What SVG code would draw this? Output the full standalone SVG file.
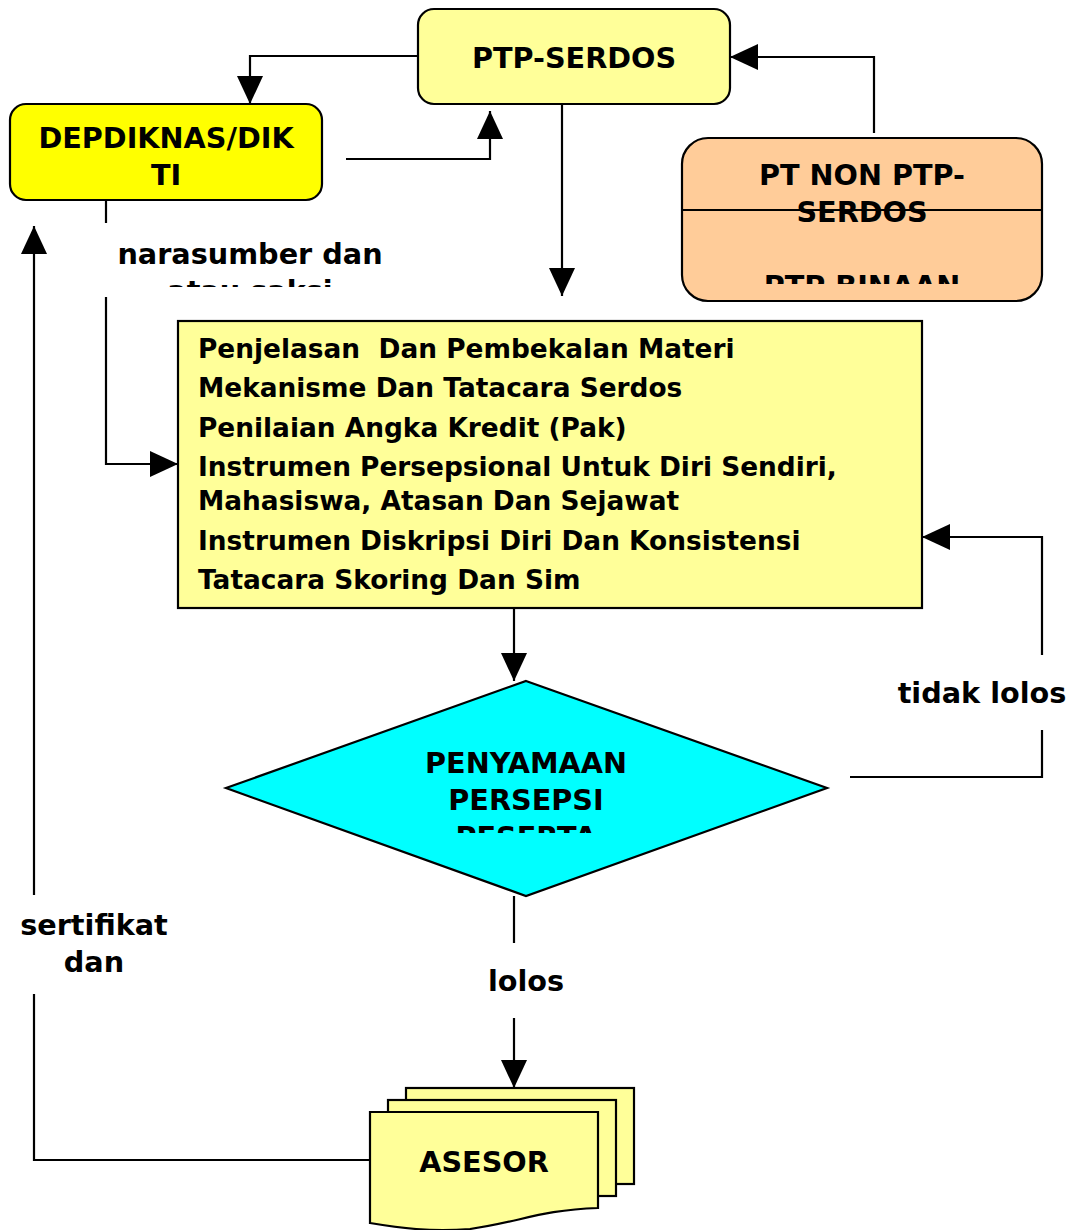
<svg xmlns="http://www.w3.org/2000/svg" width="1072" height="1230" viewBox="0 0 1072 1230">
<style>
text{font-family:"DejaVu Sans","Liberation Sans",sans-serif;font-weight:bold;fill:#000}
.t{font-size:28.7px;text-anchor:middle}
.m{font-size:26.4px}
.box{stroke:#000;stroke-width:2.2}
.ln{fill:none;stroke:#000;stroke-width:2.2}
</style>
<defs>
<marker id="ah" viewBox="0 0 28 26" refX="28" refY="13" markerWidth="28" markerHeight="26" markerUnits="userSpaceOnUse" orient="auto">
<path d="M0,0 L28,13 L0,26 Z" fill="#000"/>
</marker>
<clipPath id="cNar"><rect x="100" y="223" width="300" height="64"/></clipPath>
<clipPath id="cPt"><rect x="682" y="138" width="360" height="146"/></clipPath>
<clipPath id="cDia"><rect x="380" y="740" width="300" height="93"/></clipPath>
<clipPath id="cSer"><rect x="0" y="895" width="200" height="99"/></clipPath>
</defs>

<g id="connectors">
<polyline class="ln" points="418,56 250,56 250,104" marker-end="url(#ah)"/>
<polyline class="ln" points="346,159 490,159 490,111" marker-end="url(#ah)"/>
<polyline class="ln" points="874,133 874,57 730,57" marker-end="url(#ah)"/>
<line class="ln" x1="562" y1="104" x2="562" y2="296" marker-end="url(#ah)"/>
<line class="ln" x1="106" y1="201" x2="106" y2="223"/>
<polyline class="ln" points="106,297 106,464 178,464" marker-end="url(#ah)"/>
<line class="ln" x1="514" y1="608" x2="514" y2="681" marker-end="url(#ah)"/>
<polyline class="ln" points="850,777 1042,777 1042,730"/>
<polyline class="ln" points="1042,655 1042,537 922,537" marker-end="url(#ah)"/>
<line class="ln" x1="514" y1="896" x2="514" y2="943"/>
<line class="ln" x1="514" y1="1018" x2="514" y2="1088" marker-end="url(#ah)"/>
<polyline class="ln" points="370,1160 34,1160 34,994"/>
<line class="ln" x1="34" y1="895" x2="34" y2="226" marker-end="url(#ah)"/>
<g id="labels">
<g clip-path="url(#cNar)"><text class="t" x="250" y="264">narasumber dan</text><text class="t" x="250" y="301">atau saksi</text></g>
<text class="t" x="982" y="703">tidak lolos</text>
<text class="t" x="526" y="991">lolos</text>
<g clip-path="url(#cSer)"><text class="t" x="94" y="935">sertifikat</text><text class="t" x="94" y="972">dan</text></g>
</g>
</g>

<g id="ptp-serdos">
<rect class="box" x="418" y="9" width="312" height="95" rx="16" fill="#FFFF99"/>
<text class="t" x="574" y="68">PTP-SERDOS</text>
</g>

<g id="depdiknas">
<rect class="box" x="10" y="104" width="312" height="96" rx="16" fill="#FFFF00"/>
<text class="t" x="166" y="148">DEPDIKNAS/DIK</text>
<text class="t" x="166" y="185">TI</text>
</g>

<g id="pt-non">
<rect class="box" x="682" y="138" width="360" height="163" rx="26" fill="#FFCC99"/>
<line class="ln" x1="682" y1="210" x2="1042" y2="210"/>
<g clip-path="url(#cPt)">
<text class="t" x="862" y="185">PT NON PTP-</text>
<text class="t" x="862" y="222">SERDOS</text>
<text class="t" x="862" y="296">PTP BINAAN</text>
</g>
</g>

<g id="materi">
<rect class="box" x="178" y="321" width="744" height="287" fill="#FFFF99"/>
<text class="m" x="198" y="358" xml:space="preserve">Penjelasan  Dan Pembekalan Materi</text>
<text class="m" x="198" y="397">Mekanisme Dan Tatacara Serdos</text>
<text class="m" x="198" y="437">Penilaian Angka Kredit (Pak)</text>
<text class="m" x="198" y="476">Instrumen Persepsional Untuk Diri Sendiri,</text>
<text class="m" x="198" y="510">Mahasiswa, Atasan Dan Sejawat</text>
<text class="m" x="198" y="550">Instrumen Diskripsi Diri Dan Konsistensi</text>
<text class="m" x="198" y="589">Tatacara Skoring Dan Sim</text>
</g>

<g id="penyamaan">
<polygon class="box" points="526,681 827,788 526,896 226,788" fill="#00FFFF"/>
<g clip-path="url(#cDia)">
<text class="t" x="526" y="773">PENYAMAAN</text>
<text class="t" x="526" y="810">PERSEPSI</text>
<text class="t" x="526" y="847">PESERTA</text>
</g>
</g>

<g id="asesor">
<rect class="box" x="406" y="1088" width="228" height="96" fill="#FFFF99"/>
<rect class="box" x="388" y="1100" width="228" height="96" fill="#FFFF99"/>
<path class="box" d="M370,1112 H598 V1208 C540,1210 520,1222 470,1229 C430,1232 400,1228 370,1223 Z" fill="#FFFF99"/>
<text class="t" x="484" y="1172">ASESOR</text>
</g>
</svg>
